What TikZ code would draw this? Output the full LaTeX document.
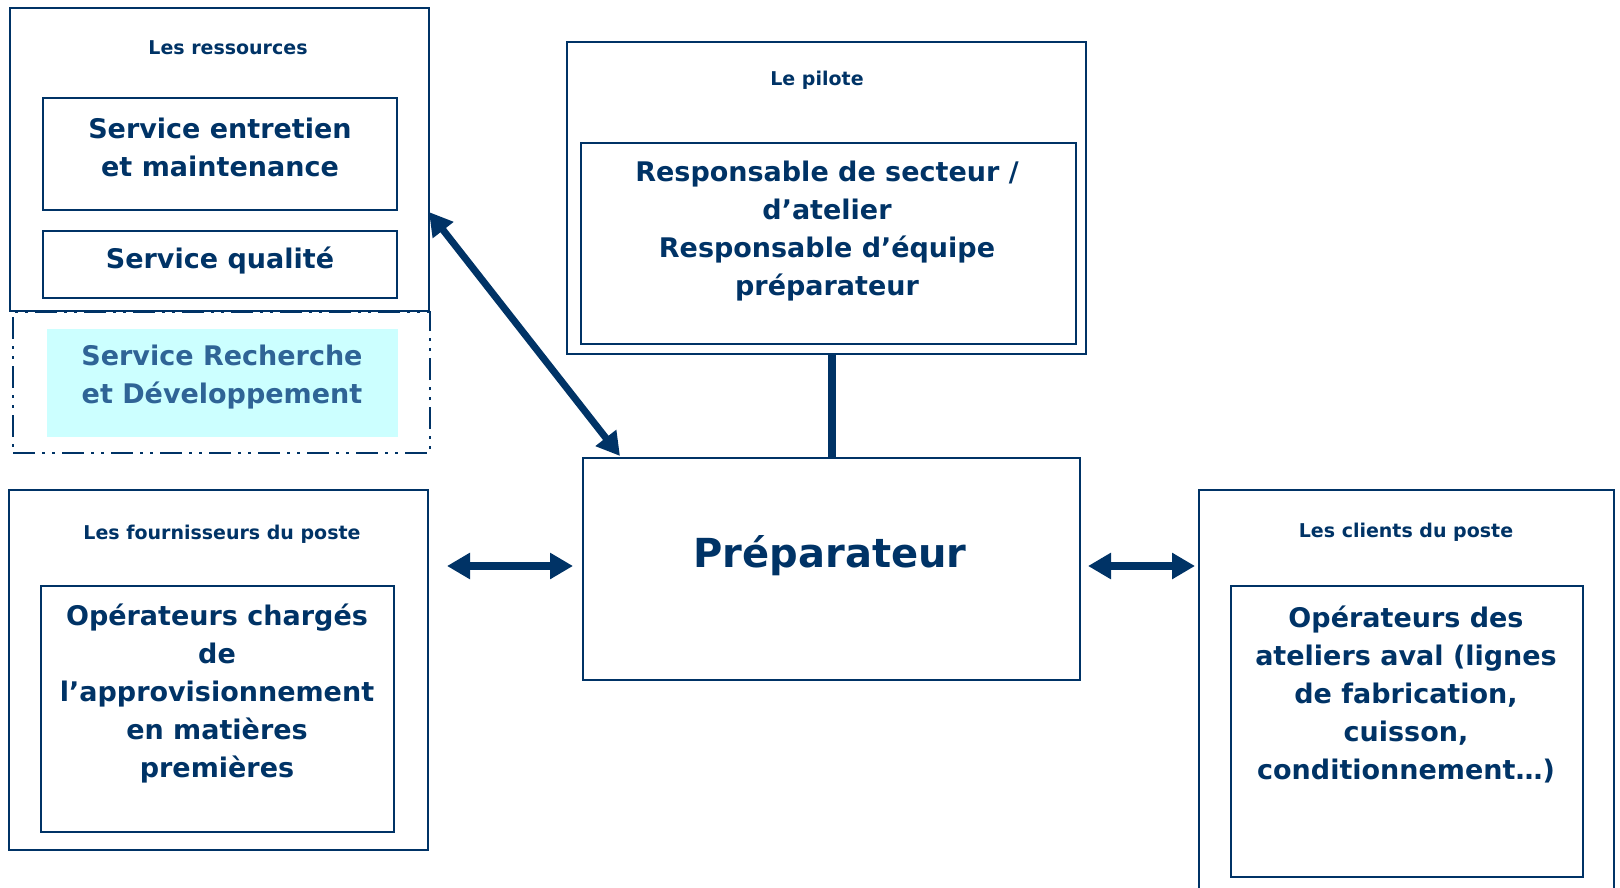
\documentclass[tikz,border=0pt]{standalone}
\usepackage{fontspec}
\setmainfont{DejaVu Sans}
\usetikzlibrary{arrows.meta}
\definecolor{navy}{HTML}{003366}
\definecolor{steel}{HTML}{2F6496}
\definecolor{paleCyan}{HTML}{CCFFFF}
\tikzset{
  frame/.style={draw=navy, line width=2.8pt, rectangle, anchor=north west,
    inner sep=0pt, outer sep=0pt},
  heading/.style={text=navy, font=\bfseries\fontsize{19}{24}\selectfont},
  body/.style={text=navy, align=center, font=\bfseries\fontsize{27}{38}\selectfont},
  link/.style={draw=navy, line width=8pt},
  twoway/.style={link, {Triangle[length=23pt,width=25pt]}-{Triangle[length=23pt,width=25pt]}},
}
\begin{document}
\begin{tikzpicture}[x=1pt,y=-1pt]
\useasboundingbox (0,0) rectangle (1620,888);

% Resources block
\node[frame, minimum width=419pt, minimum height=303pt] (res) at (10,8) {};
\node[heading] (resT) at (228,48) {Les ressources};
\node[frame, minimum width=354pt, minimum height=112pt] (ent) at (43,98) {};
\node[body] (entT) at (220,147) {Service entretien\\et maintenance};
\node[frame, minimum width=354pt, minimum height=67pt] (qual) at (43,231) {};
\node[body] (qualT) at (220,261) {Service qualité};

% Optional R&D block (dash-dot-dot border)
\node[rectangle, draw=navy, line width=2pt, anchor=north west, inner sep=0pt,
  minimum width=417pt, minimum height=141pt,
  dash pattern=on 22pt off 7pt on 3pt off 7pt on 3pt off 7pt] (rd) at (12,311) {};
\node[rectangle, fill=paleCyan, anchor=north west, inner sep=0pt,
  minimum width=351pt, minimum height=108pt] (rdFill) at (47,329) {};
\node[body, text=steel] (rdT) at (222,377) {Service Recherche\\et Développement};

% Pilot block
\node[frame, minimum width=519pt, minimum height=312pt] (pil) at (567,42) {};
\node[heading] (pilT) at (817,80) {Le pilote};
\node[frame, minimum width=495pt, minimum height=201pt] (pilIn) at (581,143) {};
\node[body] (pilInT) at (827,231) {Responsable de secteur /\\d’atelier\\Responsable d’équipe\\préparateur};

% Central post
\node[frame, minimum width=497pt, minimum height=222pt] (prep) at (583,458) {};
\node[text=navy, font=\bfseries\fontsize{40}{48}\selectfont] (prepT) at (830,556) {Préparateur};

% Suppliers block
\node[frame, minimum width=419pt, minimum height=360pt] (four) at (9,490) {};
\node[heading] (fourT) at (222,534) {Les fournisseurs du poste};
\node[frame, minimum width=353pt, minimum height=246pt] (fourIn) at (41,586) {};
\node[body] (fourInT) at (217,694) {Opérateurs chargés\\de\\l’approvisionnement\\en matières\\premières};

% Clients block
\node[frame, minimum width=415pt, minimum height=420pt] (cli) at (1199,490) {};
\node[heading] (cliT) at (1406,532) {Les clients du poste};
\node[frame, minimum width=352pt, minimum height=291pt] (cliIn) at (1231,586) {};
\node[body] (cliInT) at (1406,694) {Opérateurs des\\ateliers aval (lignes\\de fabrication,\\cuisson,\\conditionnement…)};

% Connectors
\draw[link, line cap=butt] (prep.north) -- (prep.north |- pil.south);
\coordinate (resEnd) at (429,212);
\coordinate (prepEnd) at (620,456);
\draw[twoway, line width=7pt] (resEnd) -- (prepEnd);
\draw[twoway] ([xshift=19pt,yshift=-76pt]four.north east) -- ([xshift=-10pt,yshift=-108pt]prep.north west);
\draw[twoway] ([xshift=8pt,yshift=-108pt]prep.north east) -- ([xshift=-4pt,yshift=-76pt]cli.north west);
\end{tikzpicture}
\end{document}
